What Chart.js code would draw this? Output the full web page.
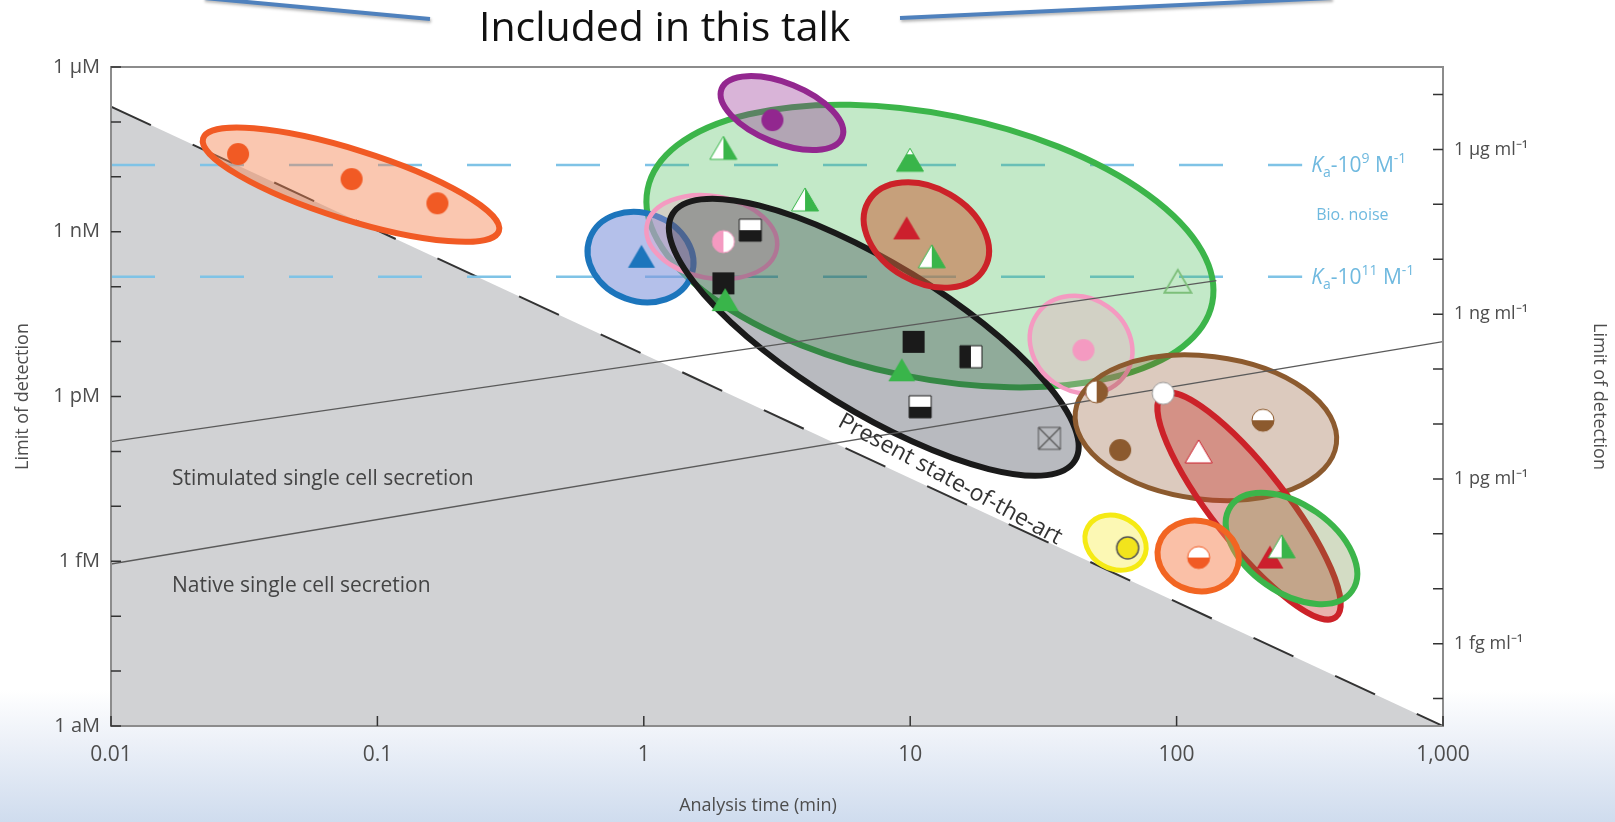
<!DOCTYPE html>
<html>
<head>
<meta charset="utf-8">
<title>Limit of detection vs analysis time</title>
<script src="https://cdn.jsdelivr.net/npm/chart.js@4.4.1/dist/chart.umd.min.js"></script>
<style>
  html, body { margin: 0; padding: 0; }
  body {
    width: 1615px; height: 822px; overflow: hidden;
    background: linear-gradient(to bottom, #fff 0px, #fff 690px, #edf1f8 740px, #cfdcee 822px);
  }
  #wrap { position: relative; width: 1615px; height: 822px; }
</style>
</head>
<body>
<div id="wrap"><canvas id="lod"></canvas></div>
<script>
// ---- axes ----
var timeTicks = [0.01, 0.1, 1, 10, 100, 1000];
var timeLabels = ['0.01', '0.1', '1', '10', '100', '1,000'];
var molarExps = [-18, -15, -12, -9, -6];
var molarNames = ['1 aM', '1 fM', '1 pM', '1 nM', '1 µM'];
var massExps = [-15, -12, -9, -6];
var massNames = ['1 fg ml⁻¹', '1 pg ml⁻¹', '1 ng ml⁻¹', '1 µg ml⁻¹'];

// ---- reference lines [time (min), concentration (M)] ----
var stateOfArt = [[0.01, 1.9e-7], [1000, 1e-18]];
var kaHigh = [[0.01, 1.64e-8], [296, 1.64e-8]];
var kaLow = [[0.01, 1.51e-10], [296, 1.51e-10]];
var stimulated = [[0.01, 1.51e-13], [141, 1.29e-10]];
var nativeCell = [[0.01, 8.9e-16], [1000, 1.0e-11]];

// ---- reported assays [time (min), LOD (M)] ----
var orangeDots = [[0.030, 2.6e-8], [0.080, 9.1e-9], [0.168, 3.3e-9]];
var purpleDots = [[3.04, 1.08e-7]];
var greenTriHalf = [[1.99, 3.3e-8], [4.03, 3.8e-9], [12.05, 3.5e-10], [248, 1.83e-15]];
var greenTriTip = [[9.98, 2.0e-8]];
var greenTri = [[2.02, 5.7e-11], [9.3, 3.0e-12]];
var greenTriOpen = [[101, 1.23e-10]];
var blueTri = [[0.98, 3.5e-10]];
var pinkDotHalf = [[1.99, 6.6e-10]];
var pinkDots = [[44.7, 7.0e-12]];
var blackSq = [[1.99, 1.15e-10], [10.3, 9.9e-12]];
var blackSqTop = [[2.51, 1.07e-9], [10.9, 6.5e-13]];
var blackSqRight = [[16.9, 5.3e-12]];
var crossedSq = [[33.3, 1.73e-13]];
var redTri = [[9.7, 1.15e-9], [224, 1.17e-15]];
var redTriOpen = [[121, 9.8e-14]];
var brownDotLeft = [[50.1, 1.22e-12]];
var whiteDots = [[89.1, 1.14e-12]];
var brownDotTop = [[211, 3.7e-13]];
var brownDots = [[61.4, 1.06e-13]];
var orangeDotTop = [[121, 1.17e-15]];
var yellowDots = [[65.5, 1.75e-15]];

// ---- technology groups: centre [time, LOD] ----
var groupCentres = [
  [0.0796, 7.2e-9], [11.86, 5.5e-10], [3.30, 1.45e-7], [0.972, 3.46e-10],
  [1.80, 8.0e-10], [7.3, 1.2e-11], [11.5, 8.7e-10], [43.8, 8.8e-12],
  [128.8, 2.7e-13], [187, 1.01e-14], [270, 1.71e-15], [120.5, 1.25e-15], [59, 2.18e-15]
];
// outline look for each group: radii px, tilt deg, stroke, fill, width
var groupLooks = [
  { rx: 155, ry: 35, tilt: 17.4, stroke: '#f15a24', fill: 'rgba(245,130,80,0.45)', w: 6 },
  { rx: 288, ry: 132, tilt: 11.4, stroke: '#3cb54a', fill: 'rgba(57,181,74,0.3)', w: 6 },
  { rx: 65, ry: 30, tilt: 22, stroke: '#93278f', fill: 'rgba(147,39,143,0.35)', w: 6 },
  { rx: 54, ry: 44, tilt: 20, stroke: '#1c75bc', fill: 'rgba(130,150,220,0.6)', w: 6 },
  { rx: 66, ry: 41, tilt: 10, stroke: '#f49ac1', fill: 'rgba(244,154,193,0.3)', w: 4.5 },
  { rx: 236, ry: 74, tilt: 31.5, stroke: '#1a1a1a', fill: 'rgba(40,45,60,0.33)', w: 6 },
  { rx: 67, ry: 47, tilt: 30, stroke: '#cc2229', fill: 'rgba(200,100,60,0.55)', w: 6 },
  { rx: 53.5, ry: 46.5, tilt: 35, stroke: '#f49ac1', fill: 'rgba(244,154,193,0.3)', w: 4.5 },
  { rx: 131.5, ry: 71.5, tilt: 7, stroke: '#8c5a2e', fill: 'rgba(140,80,40,0.3)', w: 5 },
  { rx: 141, ry: 37, tilt: 52, stroke: '#cc2229', fill: 'rgba(200,60,50,0.4)', w: 6 },
  { rx: 74, ry: 44, tilt: 35, stroke: '#3cb54a', fill: 'rgba(110,140,60,0.3)', w: 6 },
  { rx: 41, ry: 35, tilt: 15, stroke: '#f26522', fill: 'rgba(245,130,80,0.5)', w: 6 },
  { rx: 32, ry: 26, tilt: 30, stroke: '#f5ea14', fill: 'rgba(245,235,40,0.35)', w: 5 }
];

// ---- marker glyphs ----
function glyph(shape, fill, opts) {
  opts = opts || {};
  var c = document.createElement('canvas');
  c.width = 30; c.height = 30;
  var g = c.getContext('2d');
  g.translate(15, 15);
  function outline() {
    g.beginPath();
    if (shape === 'circle') g.arc(0, 0, 11, 0, 2 * Math.PI);
    else if (shape === 'square') g.rect(-11, -11, 22, 22);
    else { g.moveTo(0, -12); g.lineTo(13.5, 11); g.lineTo(-13.5, 11); g.closePath(); }
  }
  if (fill) { outline(); g.fillStyle = fill; g.fill(); }
  if (opts.white) {
    var r = { left: [-15, -15, 15, 30], right: [0, -15, 15, 30], top: [-15, -15, 30, 15], tip: [-15, -15, 30, 9] }[opts.white];
    g.save(); outline(); g.clip();
    g.fillStyle = '#fff'; g.fillRect(r[0], r[1], r[2], r[3]);
    g.restore();
  }
  if (opts.cross) {
    g.beginPath();
    g.moveTo(-11, -11); g.lineTo(11, 11); g.moveTo(11, -11); g.lineTo(-11, 11);
    g.strokeStyle = opts.edge; g.lineWidth = 1.2; g.stroke();
  }
  if (opts.edge) { outline(); g.strokeStyle = opts.edge; g.lineWidth = opts.ew || 1; g.stroke(); }
  return c;
}

function pts(list) { return list.map(function (p) { return { x: p[0], y: p[1] }; }); }

function line(list, color, width, dash, order, extra) {
  var ds = {
    data: pts(list), borderColor: color, borderWidth: width, borderDash: dash || [],
    pointRadius: 0, fill: false, order: order, tension: 0
  };
  for (var k in extra) ds[k] = extra[k];
  return ds;
}

function marks(list, icon, order) {
  return { data: pts(list), showLine: false, pointStyle: icon, pointRadius: 10, order: order };
}

var datasets = [
  line(stateOfArt, '#333', 2, [44, 46], 30, { fill: 'start', backgroundColor: '#d1d2d4' }),
  line(kaHigh, '#7fc3e6', 2.5, [44, 45], 29),
  line(kaLow, '#7fc3e6', 2.5, [44, 45], 28, { groupsAbove: true }),
  line(stimulated, '#5a5a5a', 1.3, [], 21),
  line(nativeCell, '#5a5a5a', 1.3, [], 20),
  marks(orangeDots, glyph('circle', '#f15a24'), 15),
  marks(purpleDots, glyph('circle', '#92278f'), 15),
  marks(greenTriTip, glyph('triangle', '#39b54a', { white: 'tip', edge: '#39b54a' }), 15),
  marks(greenTri, glyph('triangle', '#39b54a'), 15),
  marks(greenTriOpen, glyph('triangle', null, { edge: '#7dbf7a', ew: 1.8 }), 15),
  marks(blueTri, glyph('triangle', '#1c75bc'), 15),
  marks(pinkDotHalf, glyph('circle', '#f49ac1', { white: 'right', edge: '#f49ac1' }), 15),
  marks(pinkDots, glyph('circle', '#f49ac1'), 15),
  marks(blackSq, glyph('square', '#1a1a1a'), 15),
  marks(blackSqTop, glyph('square', '#1a1a1a', { white: 'top', edge: '#1a1a1a' }), 15),
  marks(blackSqRight, glyph('square', '#1a1a1a', { white: 'right', edge: '#1a1a1a' }), 15),
  marks(crossedSq, glyph('square', null, { cross: true, edge: '#555' }), 15),
  marks(redTri, glyph('triangle', '#cc1f2d'), 15),
  marks(redTriOpen, glyph('triangle', '#fff', { edge: '#cc1f2d' }), 15),
  marks(brownDotLeft, glyph('circle', '#8c5a2e', { white: 'left', edge: '#8c5a2e' }), 15),
  marks(whiteDots, glyph('circle', '#fff', { edge: '#999' }), 15),
  marks(brownDotTop, glyph('circle', '#8c5a2e', { white: 'top', edge: '#8c5a2e' }), 15),
  marks(brownDots, glyph('circle', '#8c5a2e'), 15),
  marks(orangeDotTop, glyph('circle', '#f15a24', { white: 'top', edge: '#f15a24' }), 15),
  marks(yellowDots, glyph('circle', '#f2e41c', { edge: '#555', ew: 1.5 }), 15),
  marks(greenTriHalf, glyph('triangle', '#39b54a', { white: 'left', edge: '#39b54a' }), 5)
];

function decades(lo, hi) {
  var out = [];
  for (var e = lo; e <= hi; e++) out.push({ value: Math.pow(10, e) });
  return out;
}

function drawGroups(chart) {
  var ctx = chart.ctx, xs = chart.scales.x, ys = chart.scales.y;
  ctx.save();
  groupCentres.forEach(function (c, i) {
    var look = groupLooks[i];
    ctx.beginPath();
    ctx.ellipse(xs.getPixelForValue(c[0]), ys.getPixelForValue(c[1]), look.rx, look.ry,
      look.tilt * Math.PI / 180, 0, 2 * Math.PI);
    ctx.fillStyle = look.fill; ctx.fill();
    ctx.strokeStyle = look.stroke; ctx.lineWidth = look.w; ctx.stroke();
  });
  ctx.restore();
}

// K_a-10^n M^-1 label with sub/superscripts
function kaLabel(ctx, x, y, exp) {
  var big = '21px "Open Sans"', small = '14px "Open Sans"';
  var parts = [
    ['K', 'italic ' + big, 0], ['a', small, 5], ['-10', big, 0],
    [exp, small, -9], [' M', big, 0], ['-1', small, -9]
  ];
  ctx.textBaseline = 'alphabetic';
  ctx.textAlign = 'left';
  parts.forEach(function (p) {
    ctx.font = p[1];
    ctx.fillText(p[0], x, y + 7 + p[2]);
    x += ctx.measureText(p[0]).width;
  });
}

var overlay = {
  id: 'overlay',
  beforeDraw: function (chart) {
    var a = chart.chartArea, ctx = chart.ctx;
    ctx.save();
    ctx.fillStyle = '#fff';
    ctx.fillRect(a.left, a.top, a.right - a.left, a.bottom - a.top);
    ctx.restore();
  },
  afterDatasetDraw: function (chart, args) {
    if (chart.data.datasets[args.index].groupsAbove) drawGroups(chart);
  },
  afterDraw: function (chart) {
    var ctx = chart.ctx, a = chart.chartArea;
    var xs = chart.scales.x, ys = chart.scales.y, y2 = chart.scales.y2;
    ctx.save();

    // frame
    ctx.strokeStyle = '#8c8c8c';
    ctx.lineWidth = 2;
    ctx.strokeRect(a.left, a.top, a.right - a.left, a.bottom - a.top);

    // inward tick marks
    ctx.strokeStyle = '#333';
    ctx.lineWidth = 1.5;
    ctx.beginPath();
    xs.ticks.forEach(function (t) {
      var p = xs.getPixelForValue(t.value);
      ctx.moveTo(p, a.bottom); ctx.lineTo(p, a.bottom - 10);
    });
    ys.ticks.forEach(function (t) {
      var p = ys.getPixelForValue(t.value);
      ctx.moveTo(a.left, p); ctx.lineTo(a.left + 10, p);
    });
    y2.ticks.forEach(function (t) {
      var p = y2.getPixelForValue(t.value);
      ctx.moveTo(a.right, p); ctx.lineTo(a.right - 10, p);
    });
    ctx.stroke();

    // x-axis title
    ctx.fillStyle = '#4d4d4d';
    ctx.font = '18px "Open Sans"';
    ctx.textAlign = 'center';
    ctx.textBaseline = 'middle';
    ctx.fillText('Analysis time (min)', 758, 806);

    // binding-affinity labels
    var endX = xs.getPixelForValue(kaHigh[1][0]) + 9;
    ctx.fillStyle = '#6fb9df';
    kaLabel(ctx, endX, ys.getPixelForValue(kaHigh[0][1]), '9');
    kaLabel(ctx, endX, ys.getPixelForValue(kaLow[0][1]), '11');
    ctx.font = '16px "Open Sans"';
    ctx.textBaseline = 'middle';
    var mid = (ys.getPixelForValue(kaHigh[0][1]) + ys.getPixelForValue(kaLow[0][1])) / 2;
    ctx.fillText('Bio. noise', endX + 5, mid - 5);

    // secretion line labels
    ctx.fillStyle = '#444';
    ctx.font = '21px "Open Sans"';
    ctx.textAlign = 'left';
    ctx.fillText('Stimulated single cell secretion', a.left + 61, ys.getPixelForValue(3.2e-14));
    ctx.fillText('Native single cell secretion', a.left + 61, ys.getPixelForValue(3.5e-16));

    // state-of-the-art label along the dashed boundary
    var x1 = xs.getPixelForValue(stateOfArt[0][0]), y1 = ys.getPixelForValue(stateOfArt[0][1]);
    var x2 = xs.getPixelForValue(stateOfArt[1][0]), y2p = ys.getPixelForValue(stateOfArt[1][1]);
    var ang = Math.atan2(y2p - y1, x2 - x1);
    var px = xs.getPixelForValue(13.3);
    var py = y1 + (px - x1) * (y2p - y1) / (x2 - x1);
    ctx.translate(px + 9 * Math.sin(ang), py - 9 * Math.cos(ang));
    ctx.rotate(ang + 0.06);
    ctx.fillStyle = '#333';
    ctx.font = '23px "Open Sans"';
    ctx.textAlign = 'center';
    ctx.textBaseline = 'alphabetic';
    ctx.fillText('Present state-of-the-art', 0, 0);
    ctx.restore();

    // slide heading with callout strokes
    ctx.save();
    ctx.shadowColor = 'rgba(0,0,0,0.3)';
    ctx.shadowBlur = 3;
    ctx.shadowOffsetX = 1;
    ctx.shadowOffsetY = 2;
    ctx.strokeStyle = '#4f81bd';
    ctx.lineWidth = 4;
    ctx.beginPath();
    ctx.moveTo(204, -2); ctx.lineTo(430, 19);
    ctx.moveTo(900, 18); ctx.lineTo(1332, -2);
    ctx.stroke();
    ctx.restore();
    ctx.save();
    ctx.fillStyle = '#111';
    ctx.font = '41px "Open Sans"';
    ctx.textBaseline = 'alphabetic';
    ctx.fillText('Included in this talk', 479, 41);
    ctx.restore();
  }
};

Chart.defaults.font.family = '"Open Sans", sans-serif';
Chart.defaults.font.size = 18;
Chart.defaults.color = '#4d4d4d';

new Chart(document.getElementById('lod'), {
  type: 'line',
  data: { datasets: datasets },
  plugins: [overlay],
  options: {
    responsive: true,
    maintainAspectRatio: false,
    animation: false,
    events: [],
    layout: { padding: { top: 67, left: 0, right: 0, bottom: 0 } },
    plugins: { legend: { display: false }, tooltip: { enabled: false } },
    scales: {
      x: {
        type: 'logarithmic', position: 'bottom', min: 0.01, max: 1000,
        grid: { display: false, drawTicks: false }, border: { display: false },
        afterBuildTicks: function (s) { s.ticks = timeTicks.map(function (v) { return { value: v }; }); },
        afterFit: function (s) { s.height = 96; },
        ticks: {
          autoSkip: false, maxRotation: 0, padding: 16, font: { size: 21 },
          callback: function (v, i) { return timeLabels[i]; }
        }
      },
      y: {
        type: 'logarithmic', position: 'left', min: 1e-18, max: 1e-6,
        grid: { display: false, drawTicks: false }, border: { display: false },
        afterBuildTicks: function (s) { s.ticks = decades(-18, -6); },
        afterFit: function (s) { s.width = 111; },
        ticks: {
          autoSkip: false, padding: 11, font: { size: 20 },
          callback: function (v) {
            var k = molarExps.indexOf(Math.round(Math.log10(v)));
            return k < 0 ? '' : molarNames[k];
          }
        },
        title: { display: true, text: 'Limit of detection', padding: { top: 12 } }
      },
      y2: {
        type: 'logarithmic', position: 'right', min: Math.pow(10, -16.5), max: Math.pow(10, -4.5),
        grid: { display: false, drawTicks: false }, border: { display: false },
        afterBuildTicks: function (s) { s.ticks = decades(-16, -5); },
        afterFit: function (s) { s.width = 172; },
        ticks: {
          autoSkip: false, padding: 11,
          callback: function (v) {
            var k = massExps.indexOf(Math.round(Math.log10(v)));
            return k < 0 ? '' : massNames[k];
          }
        },
        title: { display: true, text: 'Limit of detection', padding: { top: 5 } }
      }
    }
  }
});
</script>
</body>
</html>
